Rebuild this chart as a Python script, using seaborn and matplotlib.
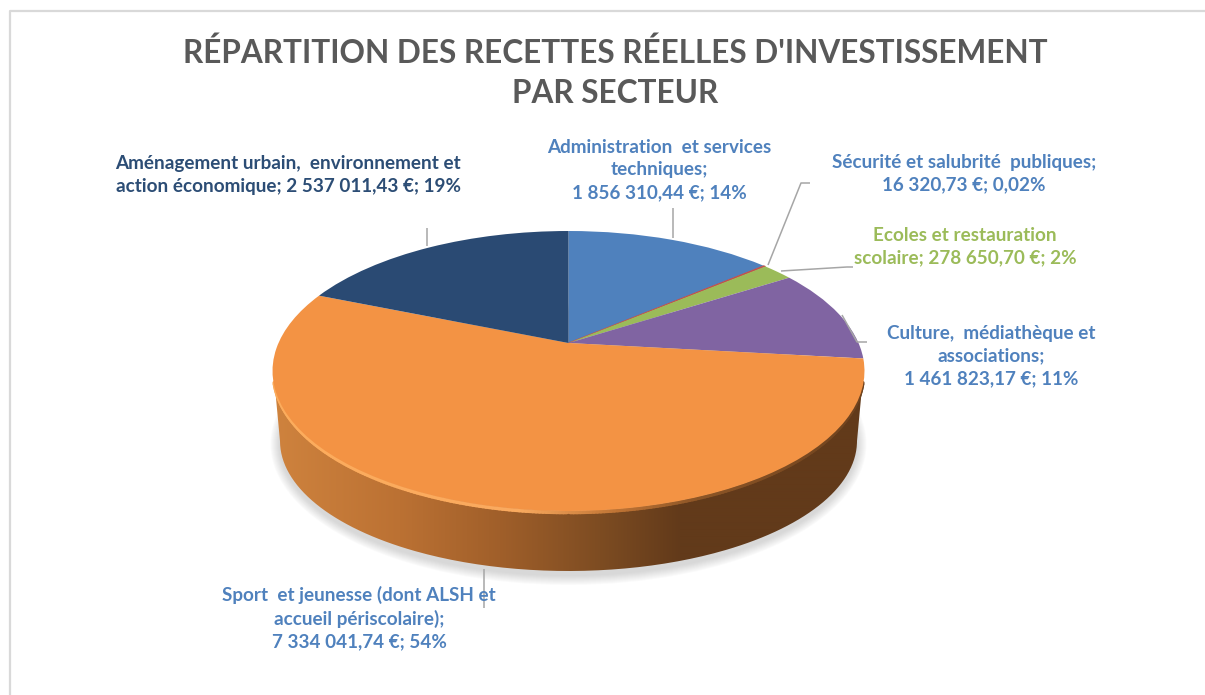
import numpy as np
import matplotlib
matplotlib.use("Agg")
import matplotlib.pyplot as plt
from matplotlib.collections import LineCollection
from matplotlib.patches import Ellipse, PathPatch
from matplotlib.path import Path
from matplotlib.transforms import Transform
import seaborn as sns

# ---- data ----
sectors = ["Administration et services techniques",
           "Sécurité et salubrité publiques",
           "Ecoles et restauration scolaire",
           "Culture, médiathèque et associations",
           "Sport et jeunesse (dont ALSH et accueil périscolaire)",
           "Aménagement urbain, environnement et action économique"]
values = [1856310.44, 16320.73, 278650.70, 1461823.17, 7334041.74, 2537011.43]
slice_colors = ["#4f81bd", "#c0504d", "#9bbb59", "#8064a2", "#f39344", "#2a4a73"]
title_lines = "RÉPARTITION DES RECETTES RÉELLES D'INVESTISSEMENT\nPAR SECTEUR"
label_texts = ["Administration  et services\ntechniques;\n1 856 310,44 €; 14%",
               "Sécurité et salubrité  publiques;\n16 320,73 €; 0,02%",
               "Ecoles et restauration\nscolaire; 278 650,70 €; 2%",
               "Culture,  médiathèque et\nassociations;\n1 461 823,17 €; 11%",
               "Sport  et jeunesse (dont ALSH et\naccueil périscolaire);\n7 334 041,74 €; 54%",
               "Aménagement urbain,  environnement et\naction économique; 2 537 011,43 €; 19%"]
label_colors = ["#4f81bd", "#4f81bd", "#9bbb59", "#4f81bd", "#4f81bd", "#2c4d75"]
label_xy = [(659, 170), (964, 174), (965, 247), (991, 356), (359, 618), (288, 175)]
leaders = [[(673, 208), (673, 238)],
           [(768, 265), (801, 183), (810, 183)],
           [(781, 271), (847, 267), (853, 267)],
           [(842, 315), (857, 342), (867, 342)],
           [(484, 569), (484, 608)],
           [(427, 228), (427, 246)]]

# ---- style ----
sns.set_theme(style="white")
plt.rcParams["font.family"] = ["Lato", "DejaVu Sans"]
palette = sns.color_palette(slice_colors)


class TiltedDisc(Transform):
    """Perspective view of the unit pie, returned in figure pixels."""
    input_dims = output_dims = 2
    is_separable = False
    has_inverse = False

    def __init__(self, cx, cy, a, b, k):
        super().__init__()
        self.cx, self.cy, self.a, self.b, self.k = cx, cy, a, b, k

    def transform_non_affine(self, values):
        v = np.asarray(values, dtype=float)
        d = 1 + self.k * v[:, 1]
        return np.column_stack([self.cx + self.b * v[:, 0] / d,
                                self.cy - self.a * v[:, 1] / d])


W, H = 1205, 695
fig = plt.figure(figsize=(W / 100, H / 100), dpi=100, facecolor="white")
ax = fig.add_axes([0, 0, 1, 1])

wedges, _ = ax.pie(values, colors=palette, startangle=90, counterclock=False,
                   wedgeprops=dict(linewidth=0, zorder=3))
disc = TiltedDisc(568.5, 343, 134.4, 290, 0.2)
for w in wedges:
    w.set_antialiased(True)
    w.set_transform(disc + ax.transData)
wedges[1].set_edgecolor(palette[1])
wedges[1].set_linewidth(0.7)

ax.set_aspect("auto")
ax.axis("off")

# soft shadow below the disc
for i in range(10, 0, -1):
    ax.add_patch(Ellipse((568.5, 444), 2 * (288 + i), 2 * (131 + i),
                         facecolor="#8c8c8c", edgecolor="none", alpha=0.035, zorder=0.5))

# side wall with a horizontal gradient
ang = np.radians(np.linspace(180, 360, 200))
top = np.column_stack([568.5 + 295 * np.cos(ang), 371.5 - 139.5 * np.sin(ang)])
bot = np.column_stack([568.5 + 288.5 * np.cos(ang), 441 - 130 * np.sin(ang)])
outline = np.vstack([top[:1], bot, top[-1:], top[::-1]])
xs = np.arange(272, 867)
stops_x = [272, 400, 500, 600, 680, 866]
stops_c = np.array([[207, 131, 62], [187, 113, 51], [160, 95, 42],
                    [125, 76, 34], [98, 58, 26], [98, 58, 26]]) / 255
grad = np.stack([np.interp(xs, stops_x, stops_c[:, i]) for i in range(3)], axis=-1)[None, :, :]
im = ax.imshow(grad, extent=(272, 867, 580, 360), aspect="auto", zorder=1,
               interpolation="bilinear")
im.set_clip_path(PathPatch(Path(outline), transform=ax.transData))

# bevel along the front edge of the top face
rim_ang = np.radians(np.linspace(184, 356, 260))
rim = np.column_stack([568.5 + 295 * np.cos(rim_ang), 373 - 139.5 * np.sin(rim_ang)])
segs = np.stack([rim[:-1], rim[1:]], axis=1)
mx = segs[:, :, 0].mean(axis=1)
rim_x = [272, 520, 620, 700, 866]
rim_c = np.array([[252, 172, 92], [250, 170, 95], [190, 115, 52], [140, 85, 38], [110, 66, 30]]) / 255
rim_rgb = np.stack([np.interp(mx, rim_x, rim_c[:, i]) for i in range(3)], axis=-1)
ax.add_collection(LineCollection(segs, colors=rim_rgb, linewidths=2.6, zorder=2,
                                 capstyle="round"))

# leader lines
for pts in leaders:
    p = np.array(pts)
    ax.plot(p[:, 0], p[:, 1], color="#a6a6a6", lw=1.1, zorder=4, solid_capstyle="butt")

# labels
for txt, col, (x, y) in zip(label_texts, label_colors, label_xy):
    ax.text(x, y, txt, color=col, ha="center", va="center", fontsize=13.6,
            fontweight="bold", linespacing=1.39, zorder=5)
ax.text(615, 72.5, title_lines, color="#595959", ha="center", va="center", fontsize=22.7,
        fontweight="bold", linespacing=1.45, zorder=5)

# chart-area border
ax.plot([10, 10, W], [H, 11, 11], color="#d9d9d9", lw=1.6, zorder=0.2)

ax.set_xlim(0, W)
ax.set_ylim(H, 0)
fig.savefig("out.png", dpi=100, facecolor="white")
